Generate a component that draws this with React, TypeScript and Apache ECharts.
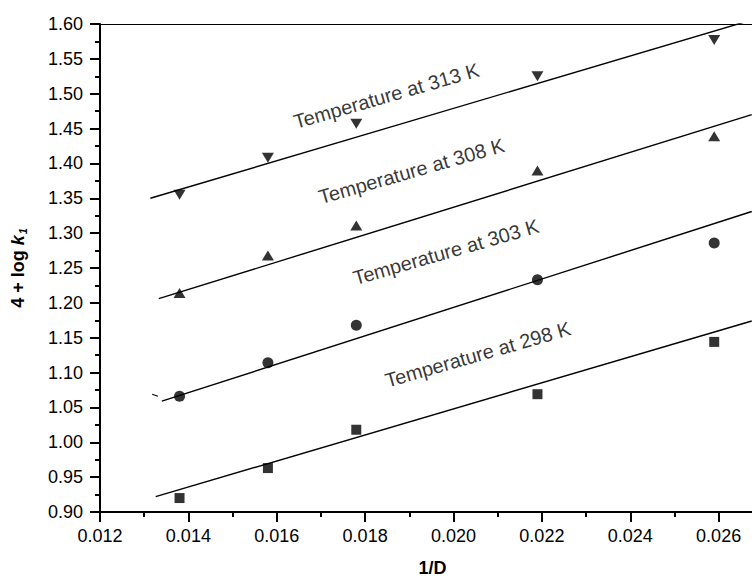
import React, { useEffect, useRef } from "react";
import * as echarts from "echarts";

const xValues = [0.0138, 0.0158, 0.0178, 0.0219, 0.0259];
const y298 = [0.920, 0.963, 1.018, 1.069, 1.144];
const y303 = [1.066, 1.114, 1.168, 1.233, 1.286];
const y308 = [1.214, 1.268, 1.311, 1.390, 1.439];
const y313 = [1.355, 1.408, 1.457, 1.525, 1.577];

// fitted straight lines (endpoints)
const fitX298 = [0.01326, 0.02675];
const fitY298 = [0.922, 1.174];
const fitX303 = [0.0134, 0.02675];
const fitY303 = [1.059, 1.331];
const fitX308 = [0.01333, 0.02675];
const fitY308 = [1.206, 1.470];
const fitX313 = [0.01314, 0.0266];
const fitY313 = [1.350, 1.603];

// small stray stroke left of the 303 K line
const strayX = [0.01318, 0.01331];
const strayY = [1.0689, 1.066];

const labelTexts = [
  "Temperature at 313 K",
  "Temperature at 308 K",
  "Temperature at 303 K",
  "Temperature at 298 K",
];
const labelX = [0.01848, 0.01905, 0.01983, 0.02055];
const labelY = [1.497, 1.389, 1.273, 1.126];

const FONT = "'Liberation Sans', Arial, sans-serif";

const pairs = (xs: number[], ys: number[]) => xs.map((x, i) => [x, ys[i]]);

export default function App() {
  const ref = useRef<HTMLDivElement>(null);
  useEffect(() => {
    document.body.style.margin = "0";
    const chart = echarts.init(ref.current!, null, { renderer: "svg" });
    const fitLine = (name: string, xs: number[], ys: number[], w = 1.4) => ({
      name,
      type: "line",
      data: pairs(xs, ys),
      symbol: "none",
      lineStyle: { color: "#000", width: w },
      silent: true,
      z: 2,
    });
    const pts = (name: string, ys: number[], symbol: string, size: any, rotate = 0) => ({
      name,
      type: "scatter",
      data: pairs(xValues, ys),
      symbol,
      symbolSize: size,
      symbolRotate: rotate,
      itemStyle: { color: "#000" },
      z: 3,
    });
    chart.setOption({
      animation: false,
      backgroundColor: "#fff",
      grid: { left: 100, width: 707, top: 24, height: 488, containLabel: false, outerBoundsMode: "none" },
      xAxis: [
        {
          type: "value",
          min: 0.012,
          max: 0.028,
          interval: 0.002,
          position: "bottom",
          name: "1/D",
          nameLocation: "middle",
          nameGap: 47,
          nameTextStyle: {
            fontFamily: FONT,
            fontSize: 18,
            fontWeight: "bold",
            color: "#000",
            lineHeight: 18,
            padding: [0, 42, 0, 0],
          },
          axisLine: { show: true, lineStyle: { color: "#000", width: 2 } },
          axisTick: { show: true, inside: false, length: 10, lineStyle: { color: "#000", width: 2 } },
          minorTick: { show: true, splitNumber: 2, length: 5, lineStyle: { color: "#000", width: 2 } },
          axisLabel: {
            margin: 15,
            fontFamily: FONT,
            fontSize: 18,
            color: "#000",
            showMaxLabel: false,
            formatter: (v: number) => v.toFixed(3),
          },
          splitLine: { show: false },
        },
        {
          type: "value",
          min: 0.012,
          max: 0.028,
          position: "top",
          axisLine: { show: true, onZero: false, lineStyle: { color: "#000", width: 1 } },
          axisTick: { show: false },
          axisLabel: { show: false },
          splitLine: { show: false },
        },
      ],
      yAxis: {
        type: "value",
        min: 0.9,
        max: 1.6,
        interval: 0.05,
        name: "{a|4 + log }{k|k}{s|1}",
        nameLocation: "middle",
        nameGap: 72,
        nameRotate: 90,
        nameTextStyle: {
          color: "#000",
          rich: {
            a: { fontFamily: FONT, fontSize: 18, fontWeight: "bold", color: "#000" },
            k: { fontFamily: FONT, fontSize: 18, fontWeight: "bold", fontStyle: "italic", color: "#000" },
            s: { fontFamily: FONT, fontSize: 11, fontWeight: "bold", fontStyle: "italic", color: "#000", padding: [10, 0, 0, 1] },
          },
        },
        axisLine: { show: true, lineStyle: { color: "#000", width: 2 } },
        axisTick: { show: true, inside: false, length: 10, lineStyle: { color: "#000", width: 2 } },
        minorTick: { show: true, splitNumber: 2, length: 5, lineStyle: { color: "#000", width: 2 } },
        axisLabel: {
          margin: 17,
          fontFamily: FONT,
          fontSize: 18,
          color: "#000",
          formatter: (v: number) => v.toFixed(2),
        },
        splitLine: { show: false },
      },
      series: [
        fitLine("fit298", fitX298, fitY298),
        fitLine("fit303", fitX303, fitY303),
        fitLine("fit308", fitX308, fitY308),
        fitLine("fit313", fitX313, fitY313),
        fitLine("stray", strayX, strayY, 1.2),
        pts("298 K", y298, "rect", 10),
        pts("303 K", y303, "circle", 11),
        pts("308 K", y308, "triangle", [12, 10]),
        pts("313 K", y313, "triangle", [12, 10], 180),
        {
          name: "labels",
          type: "scatter",
          symbolSize: 0,
          silent: true,
          z: 4,
          data: labelX.map((x, i) => ({ value: [x, labelY[i]], label: { formatter: labelTexts[i] } })),
          label: {
            show: true,
            position: "inside",
            rotate: 16,
            fontFamily: FONT,
            fontSize: 20,
            color: "#000",
          },
        },
      ],
    });
    return () => chart.dispose();
  }, []);
  return <div ref={ref} style={{ width: 752, height: 580 }} />;
}
